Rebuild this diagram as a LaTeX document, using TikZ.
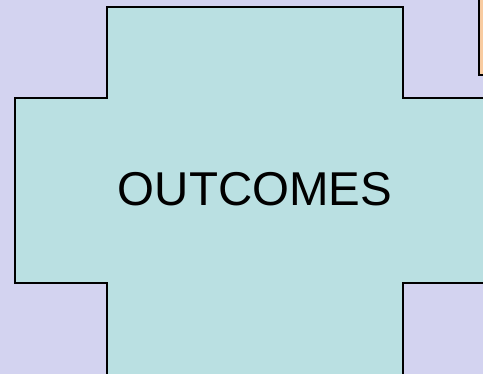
\documentclass[tikz,border=0pt]{standalone}
\usepackage{fontspec}
\setmainfont{Liberation Sans}
\usetikzlibrary{calc}
\definecolor{lavender}{RGB}{211,211,240}
\definecolor{paleteal}{RGB}{186,224,226}
\definecolor{peach}{RGB}{248,203,160}

\begin{document}
\begin{tikzpicture}[x=0.75pt, y=-0.75pt]
    \useasboundingbox (0, 0) rectangle (483, 374);
    \clip (0, 0) rectangle (483, 374);
    \fill[lavender] (0, 0) rectangle (483, 374);

    \coordinate (A) at (107, 7);
    \coordinate (B) at (403, 7);
    \coordinate (C) at (403, 98);
    \coordinate (D) at (495, 98);
    \coordinate (E) at (495, 283);
    \coordinate (F) at (403, 283);
    \coordinate (G) at (403, 390);
    \coordinate (H) at (107, 390);
    \coordinate (I) at (107, 283);
    \coordinate (J) at (15, 283);
    \coordinate (K) at (15, 98);
    \coordinate (L) at (107, 98);

    \draw[fill=peach, line width=1.5pt] (479, -10) rectangle (500, 75);
    \draw[fill=paleteal, line width=1.5pt, line join=miter]
        (A) -- (B) -- (C) -- (D) -- (E) -- (F) -- (G) -- (H) -- (I)
        -- (J) -- (K) -- (L) -- cycle;

    \node (outcomes) at (255, 189) {\fontsize{35.6}{42}\selectfont OUTCOMES};
\end{tikzpicture}
\end{document}
